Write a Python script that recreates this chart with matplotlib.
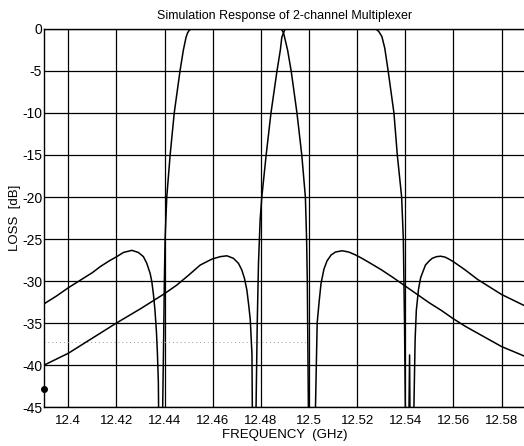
import matplotlib
matplotlib.use('Agg')
import matplotlib.pyplot as plt

plt.rcParams['font.family'] = ['Liberation Sans', 'DejaVu Sans']
plt.rcParams['axes.unicode_minus'] = False

# channel 1 (low band) response, GHz / dB
ch1_freq = [12.390, 12.395, 12.400, 12.405, 12.410, 12.4132, 12.417, 12.4201,
            12.4229, 12.4264, 12.4291, 12.4312, 12.4326, 12.4340, 12.4347,
            12.4354, 12.4360, 12.4366, 12.4370, 12.4374,
            12.4380, 12.4388, 12.4392, 12.4396, 12.4399, 12.4402, 12.4409,
            12.4423, 12.4440, 12.4464, 12.4478, 12.4489, 12.4495, 12.4502,
            12.4510, 12.460, 12.470, 12.480, 12.4885, 12.4894, 12.4911,
            12.4926, 12.4950, 12.4970, 12.4985, 12.4990, 12.4993, 12.4996,
            12.4999, 12.5012, 12.5024, 12.5027, 12.5034, 12.5042, 12.5050,
            12.5062, 12.5075, 12.5092, 12.5110, 12.5138, 12.5165, 12.5190,
            12.5220, 12.525, 12.530, 12.535, 12.540, 12.545, 12.550, 12.555,
            12.560, 12.565, 12.570, 12.575, 12.580, 12.590]
ch1_loss = [-32.7, -31.8, -30.8, -29.9, -29.0, -28.3, -27.6, -27.1,
            -26.6, -26.35, -26.6, -27.1, -27.9, -29.1, -30.1,
            -31.7, -33.5, -36.0, -38.5, -42.0,
            -60.0, -50.0, -45.0, -37.0, -30.0, -25.0, -20.0,
            -15.0, -10.0, -5.0, -2.5, -1.0, -0.5, -0.15,
            0.0, 0.0, 0.0, 0.0, 0.0, -0.44, -2.5,
            -5.0, -10.0, -15.0, -20.0, -25.0, -30.0, -40.0,
            -50.0, -60.0, -50.0, -45.0, -35.0, -32.5, -30.3,
            -28.6, -27.6, -26.9, -26.55, -26.4, -26.55, -26.85,
            -27.3, -27.8, -28.65, -29.6, -30.6, -31.6, -32.6, -33.5,
            -34.5, -35.4, -36.2, -37.0, -37.8, -39.0]

# channel 2 (high band) response
ch2_freq = [12.390, 12.400, 12.410, 12.420, 12.430, 12.440, 12.445, 12.450,
            12.4548, 12.4596, 12.4631, 12.4659, 12.4686, 12.4707, 12.4721,
            12.4732, 12.4742, 12.4750, 12.4756, 12.4763,
            12.4768, 12.4773, 12.4780, 12.4785, 12.4790, 12.4797,
            12.4804, 12.4822, 12.4842, 12.4867, 12.4881, 12.4887, 12.4894,
            12.4899, 12.4905, 12.500, 12.510, 12.520, 12.5278, 12.5290,
            12.5303, 12.5315, 12.5329, 12.5353, 12.5367, 12.5385, 12.5392,
            12.5397, 12.5402, 12.5410, 12.5418, 12.5423, 12.5432, 12.5436,
            12.5441, 12.5446, 12.5455, 12.5464, 12.5484, 12.5500, 12.5512,
            12.5530, 12.5547, 12.5565, 12.5582, 12.560, 12.565, 12.570,
            12.575, 12.580, 12.590]
ch2_loss = [-40.0, -38.6, -36.8, -35.0, -33.3, -31.5, -30.5, -29.3,
            -28.1, -27.4, -27.1, -27.0, -27.3, -27.9, -28.7,
            -29.7, -31.1, -33.0, -34.6, -38.7,
            -60.0, -50.0, -45.0, -35.0, -28.0, -22.7,
            -20.0, -15.0, -10.0, -5.0, -2.5, -1.0, -0.44,
            -0.12, 0.0, 0.0, 0.0, 0.0, 0.0, -0.3,
            -0.9, -2.3, -5.0, -10.0, -15.0, -20.0, -25.0,
            -35.0, -50.0, -60.0, -38.8, -60.0, -50.0, -45.0,
            -37.0, -33.5, -31.0, -29.6, -28.1, -27.6, -27.3,
            -27.1, -27.05, -27.15, -27.4, -27.7, -28.7, -29.8,
            -30.7, -31.6, -33.0]

# faint dotted trace and the marker dot on the left axis
ref_freq = [12.390, 12.499]
ref_loss = [-37.3, -37.3]
dot_freq = [12.390]
dot_loss = [-42.9]

x_ticks = [12.40, 12.42, 12.44, 12.46, 12.48, 12.50, 12.52, 12.54, 12.56, 12.58]
x_labels = ['12.4', '12.42', '12.44', '12.46', '12.48', '12.5', '12.52',
            '12.54', '12.56', '12.58']
y_ticks = [0, -5, -10, -15, -20, -25, -30, -35, -40, -45]

fig = plt.figure(figsize=(5.24, 4.46), dpi=100)
ax = fig.add_axes([0.0845, 0.0874, 0.9185, 0.8476])

ax.plot(ref_freq, ref_loss, color='#9a9a9a', lw=0.7, ls=(0, (1, 3)))
ax.plot(ch1_freq, ch1_loss, color='black', lw=1.1)
ax.plot(ch2_freq, ch2_loss, color='black', lw=1.1)
ax.plot(dot_freq, dot_loss, 'o', color='black', ms=4, clip_on=False)

ax.set_xlim(12.39, 12.59)
ax.set_ylim(-45, 0)
ax.set_xticks(x_ticks)
ax.set_xticklabels(x_labels)
ax.set_yticks(y_ticks)
ax.grid(True, color='black', lw=0.9)
ax.tick_params(length=0, labelsize=9.5)
ax.tick_params(axis='y', labelsize=10)
ax.tick_params(axis='x', pad=6)
ax.tick_params(axis='y', pad=1.5)
for s in ax.spines.values():
    s.set_linewidth(1.0)

ax.set_title('Simulation Response of 2-channel Multiplexer', fontsize=9, pad=7)
ax.set_xlabel('FREQUENCY  (GHz)', fontsize=9.5, labelpad=1)
ax.set_ylabel('LOSS  [dB]', fontsize=9.5, labelpad=1)

fig.savefig('out.png', dpi=100)
